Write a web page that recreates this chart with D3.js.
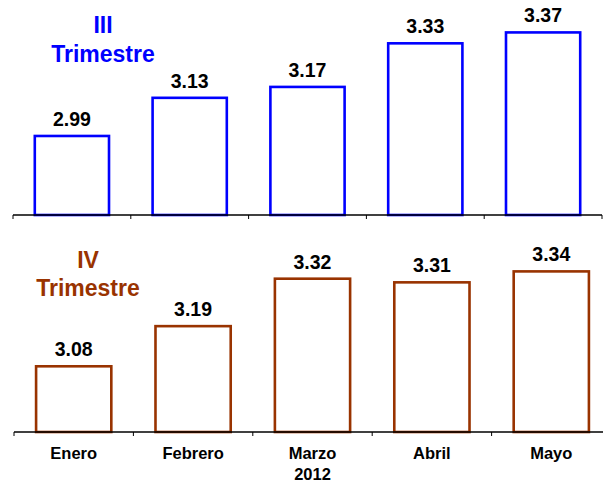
<!DOCTYPE html>
<html>
<head>
<meta charset="utf-8">
<script src="https://cdn.jsdelivr.net/npm/d3@7"></script>
<style>
  html, body { margin: 0; padding: 0; background: #fff; }
  svg { display: block; font-family: "Liberation Sans", Arial, sans-serif; }
</style>
</head>
<body>
<svg id="chart" width="603" height="482"></svg>
<script>
// Monthly values for each quarter's projection, 2012
const months = ["Enero", "Febrero", "Marzo", "Abril", "Mayo"];
const q3Values = [2.99, 3.13, 3.17, 3.33, 3.37];
const q4Values = [3.08, 3.19, 3.32, 3.31, 3.34];
const yearLabel = "2012";

const svg = d3.select("#chart");

const panels = [
  {
    values: q3Values, title: ["III", "Trimestre"], color: "#0000FF",
    xRange: [13, 602], yDomain: [2.7, 3.4], yRange: [215, 24.25],
    titleX: 103, titleY: [33, 62], showCats: false
  },
  {
    values: q4Values, title: ["IV", "Trimestre"], color: "#993300",
    xRange: [14, 611], yDomain: [2.9, 3.4], yRange: [432, 249.5],
    titleX: 88, titleY: [268, 296], showCats: true
  }
];

panels.forEach(p => {
  const x = d3.scaleBand().domain(months).range(p.xRange).paddingInner(0.37).paddingOuter(0.185);
  const xAxisScale = d3.scaleBand().domain(months).range(p.xRange);
  const y = d3.scaleLinear().domain(p.yDomain).range(p.yRange);
  const base = p.yRange[0];

  const g = svg.append("g");

  // bars
  g.selectAll("rect.bar")
    .data(p.values)
    .join("rect")
    .attr("class", "bar")
    .attr("x", (d, i) => x(months[i]))
    .attr("width", x.bandwidth())
    .attr("y", d => y(d))
    .attr("height", d => base - y(d))
    .attr("fill", "#fff")
    .attr("stroke", p.color)
    .attr("stroke-width", 2.6);

  // value labels
  g.selectAll("text.val")
    .data(p.values)
    .join("text")
    .attr("class", "val")
    .attr("x", (d, i) => x(months[i]) + x.bandwidth() / 2)
    .attr("y", d => y(d) - 10)
    .attr("text-anchor", "middle")
    .attr("font-weight", "bold")
    .attr("font-size", 19.5)
    .attr("fill", "#000")
    .text(d => d.toFixed(2));

  // category axis with boundary ticks between bands
  const axisG = g.append("g");
  axisG.append("line")
    .attr("x1", p.xRange[0]).attr("x2", p.xRange[1])
    .attr("y1", base).attr("y2", base)
    .attr("stroke", "#000").attr("stroke-width", 1.6);
  const boundaries = months.map(m => xAxisScale(m)).concat([p.xRange[1]]);
  axisG.selectAll("line.tick")
    .data(boundaries)
    .join("line")
    .attr("class", "tick")
    .attr("x1", d => d).attr("x2", d => d)
    .attr("y1", base).attr("y2", base + 4)
    .attr("stroke", "#000").attr("stroke-width", 1);

  if (p.showCats) {
    axisG.selectAll("text.cat")
      .data(months)
      .join("text")
      .attr("class", "cat")
      .attr("x", m => xAxisScale(m) + xAxisScale.bandwidth() / 2)
      .attr("y", base + 27)
      .attr("text-anchor", "middle")
      .attr("font-weight", "bold")
      .attr("font-size", 16.5)
      .attr("fill", "#000")
      .text(m => m);
    axisG.append("text")
      .attr("x", xAxisScale("Marzo") + xAxisScale.bandwidth() / 2)
      .attr("y", base + 48)
      .attr("text-anchor", "middle")
      .attr("font-weight", "bold")
      .attr("font-size", 16.5)
      .attr("fill", "#000")
      .text(yearLabel);
  }

  // panel title
  p.title.forEach((t, i) => {
    g.append("text")
      .attr("x", p.titleX)
      .attr("y", p.titleY[i])
      .attr("text-anchor", "middle")
      .attr("font-weight", "bold")
      .attr("font-size", 23)
      .attr("fill", p.color)
      .text(t);
  });
});
</script>
</body>
</html>
